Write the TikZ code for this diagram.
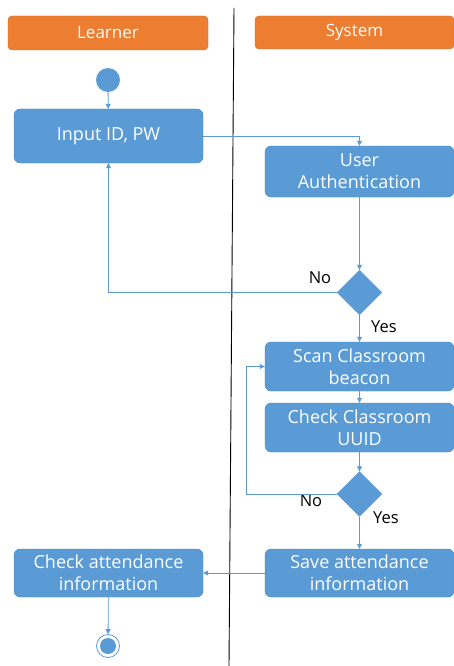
\documentclass[tikz,border=0pt]{standalone}
\usepackage{fontspec}
\setmainfont{Open Sans}
\usetikzlibrary{arrows.meta,shapes.geometric}
\definecolor{hdr}{HTML}{ED7D31}
\definecolor{act}{HTML}{5B9BD5}
\definecolor{actdraw}{HTML}{4A86C0}
\begin{document}
\begin{tikzpicture}[x=1pt,y=-1pt,
  header/.style={fill=hdr, draw=hdr!85!black, line width=0.4pt, rounded corners=4pt, text=white, font=\fontsize{17}{18}\selectfont, inner sep=0pt},
  actbox/.style={fill=act, draw=actdraw, line width=0.4pt, rounded corners=6pt, text=white, align=center, font=\fontsize{18}{22}\selectfont, inner sep=0pt, minimum width=189pt},
  decision/.style={diamond, fill=act, draw=act, inner sep=0pt, minimum width=45pt, minimum height=45pt},
  flow/.style={draw=act, line width=0.8pt, -{Triangle[length=5pt,width=5pt]}},
  lbl/.style={font=\fontsize{16.5}{18}\selectfont, text=black, inner sep=0pt}]
\useasboundingbox (0,0) rectangle (454,666);
% lanes
\node[header, minimum width=200pt, minimum height=34pt] (hl) at (108,33) {Learner};
\node[header, minimum width=199pt, minimum height=33pt] (hs) at (354.5,32.5) {System};
\coordinate (lt) at (234,8);
\coordinate (lb) at (229,666);
\draw[black, line width=0.9pt] (lt) -- (lb);
% start
\node[circle, fill=act, minimum size=24pt, inner sep=0pt] (start) at (108,80) {};
% activities
\node[actbox, minimum height=54pt] (in) at (108.5,136) {Input ID, PW};
\node[actbox, minimum height=51pt] (ua) at (359.5,171.5) {User\\Authentication};
\node[decision] (d1) at (359.5,292.5) {};
\node[actbox, minimum height=49pt] (scan) at (359.5,366.5) {Scan Classroom\\beacon};
\node[actbox, minimum height=49pt] (uuid) at (359.5,427.5) {Check Classroom\\UUID};
\node[decision] (d2) at (359.5,494) {};
\node[actbox, minimum height=48pt] (save) at (359.5,573) {Save attendance\\information};
\node[actbox, minimum height=48pt] (ca) at (108.5,573) {Check attendance\\information};
% end
\node[circle, draw=act, line width=0.8pt, fill=white, minimum size=23pt, inner sep=0pt] (endo) at (108,646) {};
\node[circle, fill=act, minimum size=16pt, inner sep=0pt] (endi) at (108,646) {};
% labels
\node[lbl] (no1) at (320,278) {No};
\node[lbl] (yes1) at (384,327) {Yes};
\node[lbl] (no2) at (311,501) {No};
\node[lbl] (yes2) at (386,518) {Yes};
% connectors
\coordinate (lp) at (246,494);
\draw[flow] (start) -- (in);
\draw[flow] (in.east) -| (ua.north);
\draw[flow] (ua) -- (d1);
\draw[flow] (d1.west) -| (in.south);
\draw[flow] (d1) -- (scan);
\draw[flow] (scan) -- (uuid);
\draw[flow] (uuid) -- (d2);
\draw[flow] (d2.west) -- (lp) |- (scan.west);
\draw[flow] (d2) -- (save);
\draw[flow] (save) -- (ca);
\draw[flow] (ca) -- (endo);
\end{tikzpicture}
\end{document}
